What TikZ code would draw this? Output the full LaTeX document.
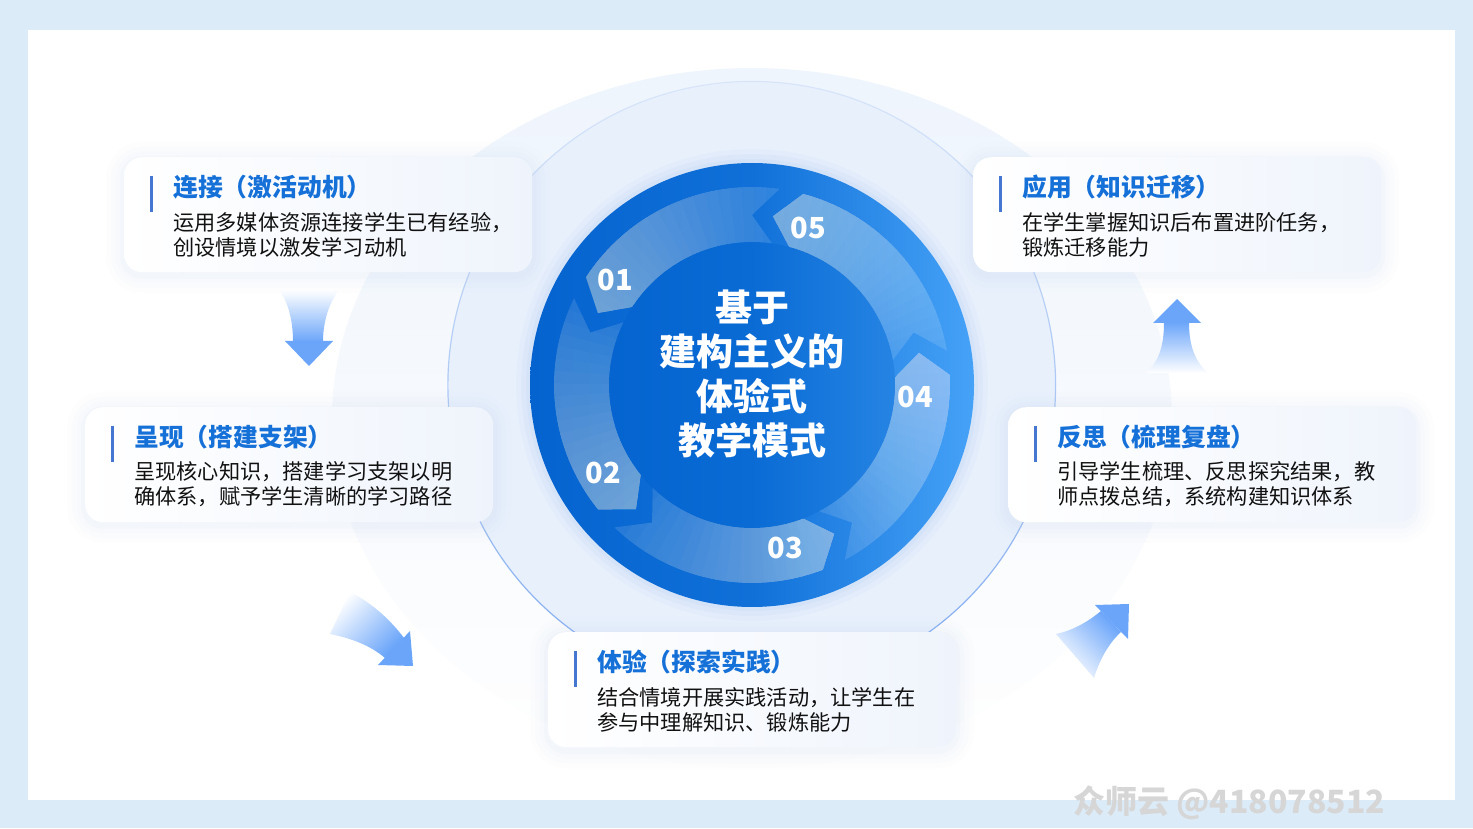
\documentclass[tikz,border=0pt]{standalone}
\usepackage{fontspec}
\setmainfont{Noto Sans CJK SC}
\usetikzlibrary{fadings,calc}
\definecolor{pagebg}{HTML}{DCEBF8}
\definecolor{glowc}{HTML}{EFF5FD}
\definecolor{ringc}{HTML}{E8F0FC}
\definecolor{ringline}{HTML}{7FAAF0}
\definecolor{haloc}{HTML}{B8D0F4}
\definecolor{discL}{HTML}{0563CF}
\definecolor{discM}{HTML}{1070D8}
\definecolor{discR}{HTML}{46A2F7}
\definecolor{coreL}{HTML}{0564CF}
\definecolor{coreM}{HTML}{0A6BD5}
\definecolor{coreR}{HTML}{2584E3}
\definecolor{titleblue}{HTML}{1570D8}
\definecolor{barblue}{HTML}{4677D0}
\definecolor{bodyc}{HTML}{111111}
\definecolor{boxright}{HTML}{EFF4FC}
\definecolor{boxglow}{HTML}{B9CEF0}
\definecolor{arrowblue}{HTML}{6AA5FA}
\definecolor{wmgray}{HTML}{D6D6D6}
\tikzfading[name=fadetop, top color=transparent!85, bottom color=transparent!0]
\tikzfading[name=glowfade, top color=transparent!0, bottom color=transparent!100]
\newcommand\ringseg[3]{%
  \pgfmathsetmacro\segHc{#2-8}%
  \pgfmathsetmacro\segE{#2+6}%
  \begin{scope}
    \clip (#1:198) arc[start angle=#1, end angle=\segHc, radius=198] -- (#2:170) -- (\segHc:143) arc[start angle=\segHc, end angle=#1, radius=143] -- (#3:170) -- cycle;
    \fill[white, fill opacity=0.10] (0,0) circle (215);
    \foreach \k in {0,...,19}{%
      \pgfmathsetmacro\segA{#1+\k*(#2-#1)/20}%
      \fill[white, fill opacity=0.022] (0,0) -- (\segA:215) arc[start angle=\segA, end angle=\segE, radius=215] -- cycle;
    }
  \end{scope}}
\newcommand\stagebox[6]{%
  \foreach \e/\o in {18/0.025,13/0.035,8/0.045,4/0.055}{%
    \pgfmathsetmacro\rc{18+\e}%
    \fill[boxglow, opacity=\o, rounded corners=\rc pt] ({#2-\e},{828-#3+\e-3}) rectangle ({#2+408+\e},{828-#3-115-\e-3});
  }
  \node[stagebg] (#1) at (#2,{828-#3}) {};
  \draw[barblue, line width=3pt] ([xshift=27pt,yshift=-19pt]#1.north west) -- ([xshift=27pt,yshift=-55pt]#1.north west);
  \node[stagetitle] (#1t) at ([xshift=49pt,yshift=-30pt]#1.north west) {#4};
  \node[stagebody] (#1b) at ([xshift=49pt,yshift=-77.5pt]#1.north west) {#5\\#6};
}
\begin{document}
\begin{tikzpicture}[x=1pt,y=1pt,
  stagebg/.style={rectangle, rounded corners=18pt, left color=white, right color=boxright, minimum width=408pt, minimum height=115pt, inner sep=0pt, anchor=north west},
  stagetitle/.style={anchor=west, inner sep=0pt, text=titleblue, font=\bfseries\fontsize{24.8}{28}\selectfont},
  stagebody/.style={anchor=west, inner sep=0pt, align=left, text=bodyc, font=\fontsize{21.2}{25}\selectfont},
  segnum/.style={text=white, font=\bfseries\fontsize{29}{32}\selectfont, inner sep=0pt}]
\useasboundingbox (0,0) rectangle (1473,828);
\fill[pagebg] (0,0) rectangle (1473,828);
\fill[white] (28,28) rectangle (1455,798);
\begin{scope}
  \clip (28,28) rectangle (1455,798);
  \fill[glowc, path fading=glowfade] (752,410) ellipse [x radius=420, y radius=350];
\end{scope}
\begin{scope}[shift={(752,443)}]
  \fill[ringc] (0,0) circle (304);
  \draw[ringline, line width=1.2pt, path fading=fadetop] (0,0) circle (304);
  \foreach \r/\o in {236/0.10, 231/0.14, 226/0.2}{\fill[haloc, opacity=\o] (0,0) circle (\r);}
  \shade[left color=discL, right color=discR, middle color=discM] (0,0) circle (222);
  \shade[left color=coreL, right color=coreR, middle color=coreM] (0,0) circle (143);
  \ringseg{82}{155}{90}
  \ringseg{154}{227}{162}
  \ringseg{226}{299}{234}
  \ringseg{298}{371}{306}
  \ringseg{370}{443}{378}
\end{scope}
\node[segnum] (n1) at (615,548) {01};
\node[segnum] (n2) at (603,355) {02};
\node[segnum] (n3) at (785,280) {03};
\node[segnum] (n4) at (915,431) {04};
\node[segnum] (n5) at (808,600) {05};
\node[align=center, text=white, inner sep=0pt, font=\bfseries\fontsize{37}{44.5}\selectfont] (core) at (752,454) {基于\\建构主义的\\体验式\\教学模式};
% gradient arrows
\shade[top color=white, bottom color=arrowblue] (293,486) .. controls (293,510) and (287,528) .. (279,538) -- (339,538) .. controls (331,528) and (323,510) .. (323,486) -- cycle;
\fill[arrowblue] (285,487) -- (333,487) -- (309,462) -- cycle;
\shade[top color=arrowblue, bottom color=white] (1164,506) .. controls (1164,480) and (1158,466) .. (1146,455) -- (1208,455) .. controls (1196,466) and (1189,480) .. (1189,506) -- cycle;
\fill[arrowblue] (1153,505) -- (1201,505) -- (1177,529) -- cycle;
\shade[top color=white, bottom color=arrowblue, shading angle=45] (404,190) .. controls (392,206) and (374,224) .. (350,236) -- (330,194) .. controls (350,190) and (370,183) .. (385,170) -- cycle;
\fill[arrowblue] (410,197) -- (413,162) -- (378,163) -- cycle;
\shade[top color=arrowblue, bottom color=white, shading angle=-45] (1101,217) .. controls (1090,208) and (1075,198) .. (1056,194) -- (1094,150) .. controls (1100,170) and (1110,186) .. (1121,196) -- cycle;
\fill[arrowblue] (1095,223) -- (1129,224) -- (1128,189) -- cycle;
% stage boxes
\stagebox{b1}{124}{157}{连接（激活动机）}{运用多媒体资源连接学生已有经验，}{创设情境以激发学习动机}
\stagebox{b2}{85}{407}{呈现（搭建支架）}{呈现核心知识，搭建学习支架以明}{确体系，赋予学生清晰的学习路径}
\stagebox{b3}{548}{632}{体验（探索实践）}{结合情境开展实践活动，让学生在}{参与中理解知识、锻炼能力}
\stagebox{b4}{1008}{407}{反思（梳理复盘）}{引导学生梳理、反思探究结果，教}{师点拨总结，系统构建知识体系}
\stagebox{b5}{973}{157}{应用（知识迁移）}{在学生掌握知识后布置进阶任务，}{锻炼迁移能力}
\node[anchor=west, text=wmgray, inner sep=0pt, font=\bfseries\fontsize{32}{36}\selectfont] (wm) at (1073,25) {众师云 @418078512};
\end{tikzpicture}
\end{document}
